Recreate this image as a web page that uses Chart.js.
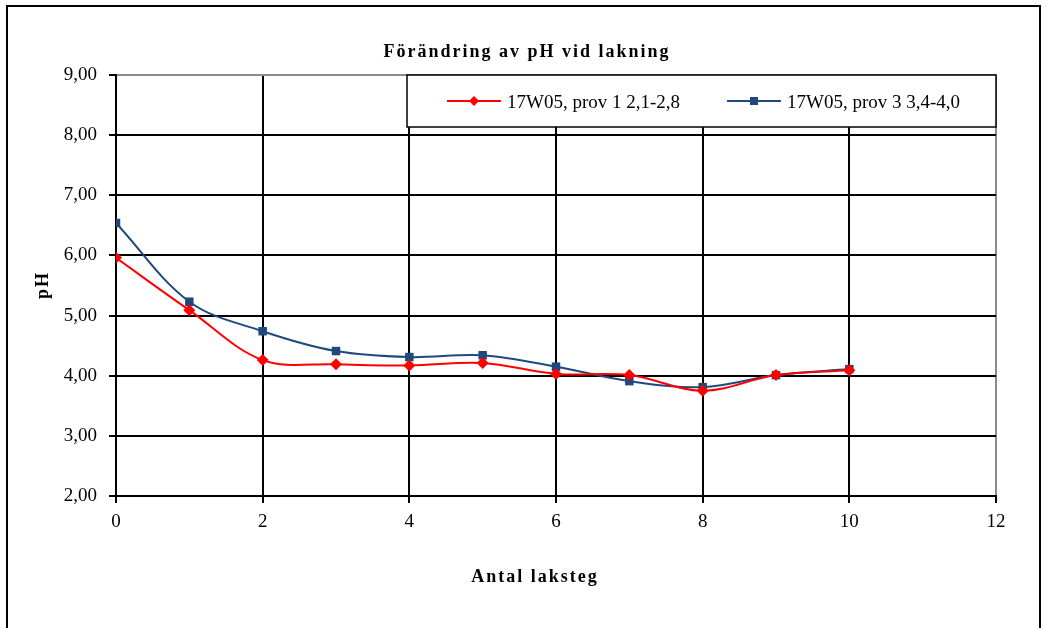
<!DOCTYPE html>
<html>
<head>
<meta charset="utf-8">
<script src="https://cdn.jsdelivr.net/npm/chart.js@4.4.1/dist/chart.umd.min.js"></script>
<style>
  html, body { margin: 0; padding: 0; background: #fff; }
  canvas { display: block; }
</style>
</head>
<body>
<canvas id="myChart" width="1052" height="628"></canvas>
<script>
// antal laksteg (x) och pH-värden
var steps = [0, 1, 2, 3, 4, 5, 6, 7, 8, 9, 10];
var prov1 = [5.96, 5.09, 4.26, 4.19, 4.17, 4.21, 4.03, 4.01, 3.75, 4.01, 4.09];
var prov3 = [6.54, 5.23, 4.74, 4.41, 4.31, 4.34, 4.15, 3.91, 3.81, 4.01, 4.11];
var seriesNames = ['17W05, prov 1 2,1-2,8', '17W05, prov 3 3,4-4,0'];
var yTicks = [2, 3, 4, 5, 6, 7, 8, 9];
var xTicks = [0, 2, 4, 6, 8, 10, 12];
var chartTitle = 'Förändring av pH vid lakning';
var xTitle = 'Antal laksteg';
var yTitle = 'pH';

var serif = '"Liberation Serif", "Times New Roman", serif';
var red = '#ff0000';
var blue = '#1f497d';

function pts(ys) {
    var out = [];
    for (var i = 0; i < steps.length; i++) {
        out.push({ x: steps[i], y: ys[i] });
    }
    return out;
}

// ram runt hela diagrammet, rubriker och legend
var extras = {
    id: 'extras',
    beforeDraw: function (chart) {
        var c = chart.ctx;
        c.save();
        c.fillStyle = '#fff';
        c.fillRect(0, 0, chart.width, chart.height);
        c.restore();
    },
    afterDraw: function (chart) {
        var c = chart.ctx;
        c.save();
        // yttre ram
        c.strokeStyle = '#000';
        c.lineWidth = 2;
        c.strokeRect(7, 6, 1033, 640);

        // legend
        var bx = 407, by = 75, bw = 589, bh = 52;
        c.fillStyle = '#fff';
        c.fillRect(bx, by, bw, bh);
        c.lineWidth = 1.5;
        c.strokeStyle = '#000';
        c.strokeRect(bx, by, bw, bh);

        var ly = 101;
        var items = [
            { x: 447, color: red, style: 'diamond', text: seriesNames[0] },
            { x: 727, color: blue, style: 'square', text: seriesNames[1] }
        ];
        c.font = '19px ' + serif;
        c.textBaseline = 'alphabetic';
        c.textAlign = 'left';
        items.forEach(function (it) {
            c.strokeStyle = it.color;
            c.lineWidth = 2;
            c.beginPath();
            c.moveTo(it.x, ly);
            c.lineTo(it.x + 54, ly);
            c.stroke();
            c.fillStyle = it.color;
            var mx = it.x + 27;
            if (it.style === 'diamond') {
                c.beginPath();
                c.moveTo(mx, ly - 5);
                c.lineTo(mx + 5, ly);
                c.lineTo(mx, ly + 5);
                c.lineTo(mx - 5, ly);
                c.closePath();
                c.fill();
            } else {
                c.fillRect(mx - 4, ly - 4, 8, 8);
            }
            c.fillStyle = '#000';
            c.fillText(it.text, it.x + 60, ly + 7);
        });

        // rubriker med lite spärrning som i Excel
        c.fillStyle = '#000';
        c.font = 'bold 18px ' + serif;
        c.letterSpacing = '2px';
        c.textAlign = 'center';
        c.fillText(chartTitle, 527, 57);
        c.fillText(xTitle, 535, 582);
        c.translate(48, 285);
        c.rotate(-Math.PI / 2);
        c.fillText(yTitle, 0, 0);
        c.letterSpacing = '0px';
        c.restore();
    }
};

var ctx = document.getElementById('myChart').getContext('2d');
var chart = new Chart(ctx, {
    type: 'line',
    data: {
        datasets: [{
            label: seriesNames[0],
            data: pts(prov1),
            borderColor: red,
            backgroundColor: red,
            borderWidth: 2,
            pointStyle: 'rectRot',
            pointRadius: 6,
            pointBorderWidth: 0,
            tension: 0.35,
            fill: false
        }, {
            label: seriesNames[1],
            data: pts(prov3),
            borderColor: blue,
            backgroundColor: blue,
            borderWidth: 2,
            pointStyle: 'rect',
            pointRadius: 6,
            pointBorderWidth: 0,
            tension: 0.35,
            fill: false
        }]
    },
    options: {
        responsive: false,
        animation: false,
        layout: { padding: { left: 0, right: 56, top: 75, bottom: 0 } },
        plugins: {
            legend: { display: false },
            tooltip: { enabled: false },
            title: { display: false }
        },
        scales: {
            x: {
                type: 'linear',
                min: 0,
                max: 12,
                afterFit: function (s) { s.height = 132; },
                afterBuildTicks: function (s) {
                    s.ticks = xTicks.map(function (v) { return { value: v }; });
                },
                ticks: {
                    color: '#000',
                    font: { family: serif, size: 19 },
                    padding: 8,
                    maxRotation: 0
                },
                grid: {
                    color: function (c) { return c.tick && c.tick.value === 12 ? '#8c8c8c' : '#000'; },
                    tickColor: '#000',
                    lineWidth: 2,
                    tickLength: 7
                },
                border: { color: '#000', width: 2 }
            },
            y: {
                min: 2,
                max: 9,
                afterFit: function (s) { s.width = 116; },
                afterBuildTicks: function (s) {
                    s.ticks = yTicks.map(function (v) { return { value: v }; });
                },
                ticks: {
                    color: '#000',
                    font: { family: serif, size: 19 },
                    padding: 12,
                    callback: function (v) { return Number(v).toFixed(2).replace('.', ','); }
                },
                grid: {
                    color: function (c) { return c.tick && c.tick.value === 9 ? '#8c8c8c' : '#000'; },
                    tickColor: '#000',
                    lineWidth: 2,
                    tickLength: 7
                },
                border: { color: '#000', width: 2 }
            }
        }
    },
    plugins: [extras]
});
</script>
</body>
</html>
